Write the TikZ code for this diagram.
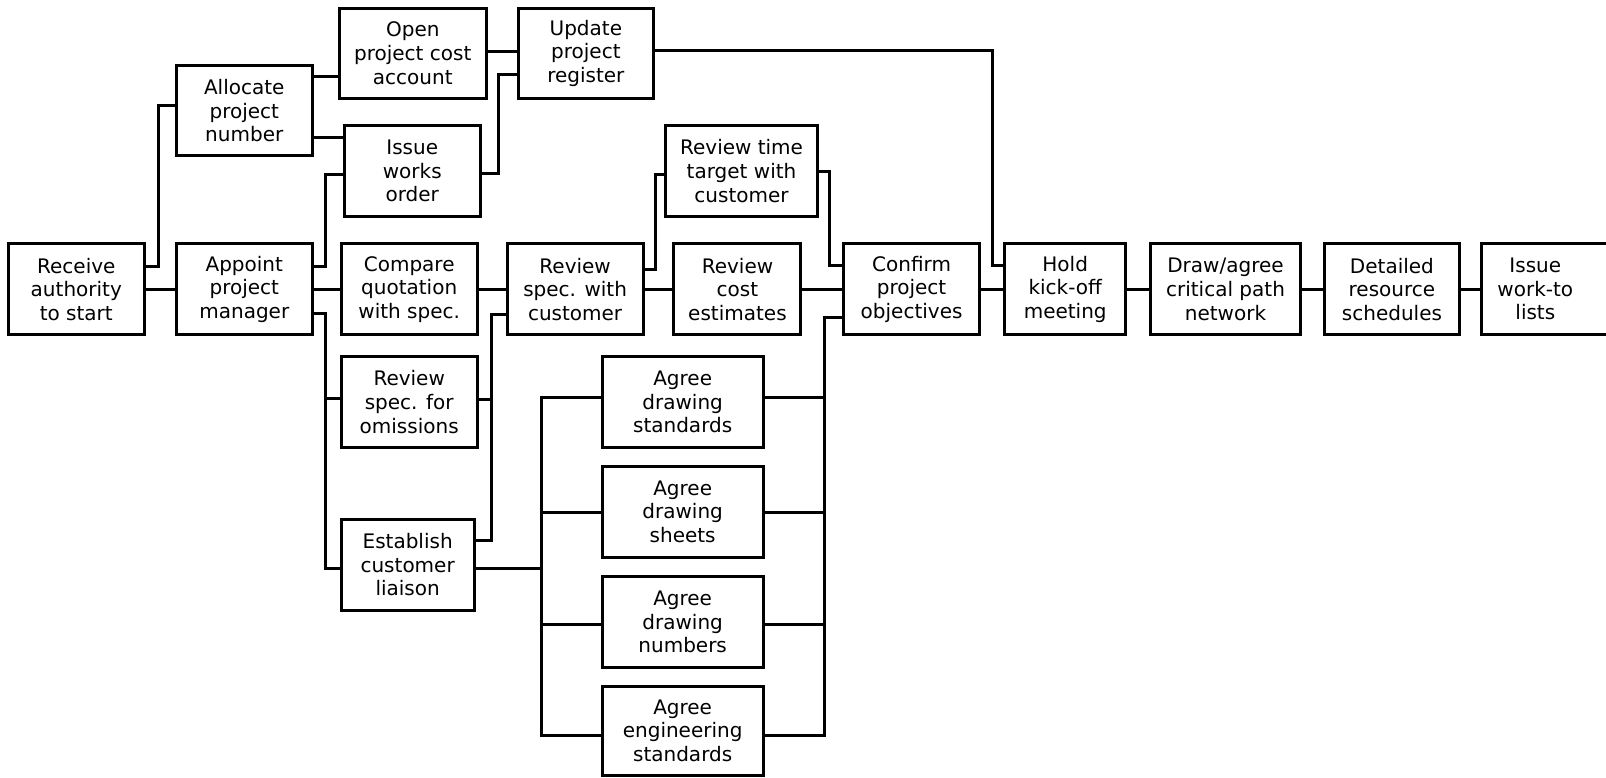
\documentclass[tikz,border=0pt]{standalone}
\usepackage{fontspec}
\setmainfont{DejaVu Sans}
\newcommand\bx[6]{\node[box, minimum width={(#4-#2)*0.768pt}, minimum height={(#5-#3)*0.768pt}] (#1) at ({(#2+#4)/2},{(#3+#5)/2}) {#6};}
\begin{document}
\begin{tikzpicture}[x=0.768pt, y=-0.768pt,
  box/.style={draw, line width=2.25pt, inner sep=0pt, align=center, font=\fontsize{15pt}{17.7pt}\selectfont},
  con/.style={line width=2.25pt}]
\useasboundingbox (0,0) rectangle (1568,759);
\bx{recv}{8}{238}{141}{327}{Receive\\authority\\to start}
\bx{alloc}{172}{64}{305}{152}{Allocate\\project\\number}
\bx{open}{331}{8}{475}{96}{Open\\project cost\\account}
\bx{upd}{506}{8}{638}{96}{Update\\project\\register}
\bx{iwo}{336}{123}{469}{211}{Issue\\works\\order}
\bx{appt}{172}{238}{305}{327}{Appoint\\project\\manager}
\bx{comp}{333}{238}{466}{327}{Compare\\quotation\\with spec.}
\bx{omis}{333}{348}{466}{437}{Review\\spec. for\\omissions}
\bx{estab}{333}{507}{463}{596}{Establish\\customer\\liaison}
\bx{rsc}{495}{238}{628}{327}{Review\\spec. with\\customer}
\bx{rtt}{650}{123}{798}{211}{Review time\\target with\\customer}
\bx{rce}{658}{238}{782}{327}{Review\\cost\\estimates}
\bx{conf}{824}{238}{956}{327}{Confirm\\project\\objectives}
\bx{ag1}{588}{348}{745}{437}{Agree\\drawing\\standards}
\bx{ag2}{588}{455}{745}{544}{Agree\\drawing\\sheets}
\bx{ag3}{588}{563}{745}{652}{Agree\\drawing\\numbers}
\bx{ag4}{588}{670}{745}{757}{Agree\\engineering\\standards}
\bx{hold}{981}{238}{1099}{327}{Hold\\kick-off\\meeting}
\bx{crit}{1123}{238}{1270}{327}{Draw/agree\\critical path\\network}
\bx{det}{1293}{238}{1425}{327}{Detailed\\resource\\schedules}
\bx{iwl}{1446}{238}{1590}{327}{\raisebox{-1.5pt}[\height][\depth]{\begin{tabular}{@{}c@{}}Issue\\work-to\\lists\end{tabular}}\hspace*{29.2pt}}
% junction coordinates
\coordinate (jL) at (318,389);
\coordinate (jR) at (480,390);
\coordinate (jA) at (529,555);
\coordinate (jB) at (805,388);
% connectors
\draw[con] (recv.east |- 0,260) -- (155,260) |- (alloc.west |- 0,103);
\draw[con] (recv) -- (appt);
\draw[con] (alloc.east |- 0,75) -- (open.west |- 0,75);
\draw[con] (alloc.east |- 0,134) -- (iwo.west |- 0,134);
\draw[con] (open.east |- 0,50) -- (upd.west |- 0,50);
\draw[con] (iwo.east |- 0,169) -- (487,169) |- (upd.west |- 0,73);
\draw[con] (upd.east |- 0,49) -- (969,49) |- (hold.west |- 0,259);
\draw[con] (appt.east |- 0,260) -- (318,260) |- (iwo.west |- 0,170);
\draw[con] (appt) -- (comp);
\draw[con] (appt.east |- 0,306) -- (318,306) |- (estab.west |- 0,555);
\draw[con] (jL) -- (omis.west |- jL);
\draw[con] (omis.east |- jR) -- (jR);
\draw[con] (estab.east |- 0,528) -- (480,528) |- (rsc.west |- 0,307);
\draw[con] (comp) -- (rsc);
\draw[con] (estab.east |- jA) -- (jA);
\draw[con] (ag1.west |- 0,388) -- (529,388) |- (ag4.west |- 0,718);
\draw[con] (ag2.west |- 0,500) -- (529,500);
\draw[con] (ag3.west |- 0,610) -- (529,610);
\draw[con] (ag4.east |- 0,718) -- (805,718) |- (conf.west |- 0,310);
\draw[con] (ag1.east |- jB) -- (jB);
\draw[con] (ag2.east |- 0,500) -- (805,500);
\draw[con] (ag3.east |- 0,610) -- (805,610);
\draw[con] (rsc.east |- 0,263) -- (640,263) |- (rtt.west |- 0,170);
\draw[con] (rsc) -- (rce);
\draw[con] (rtt.east |- 0,167) -- (810,167) |- (conf.west |- 0,259);
\draw[con] (rce) -- (conf);
\draw[con] (conf) -- (hold);
\draw[con] (hold) -- (crit);
\draw[con] (crit) -- (det);
\draw[con] (det.east) -- (iwl.west);
\end{tikzpicture}
\end{document}
